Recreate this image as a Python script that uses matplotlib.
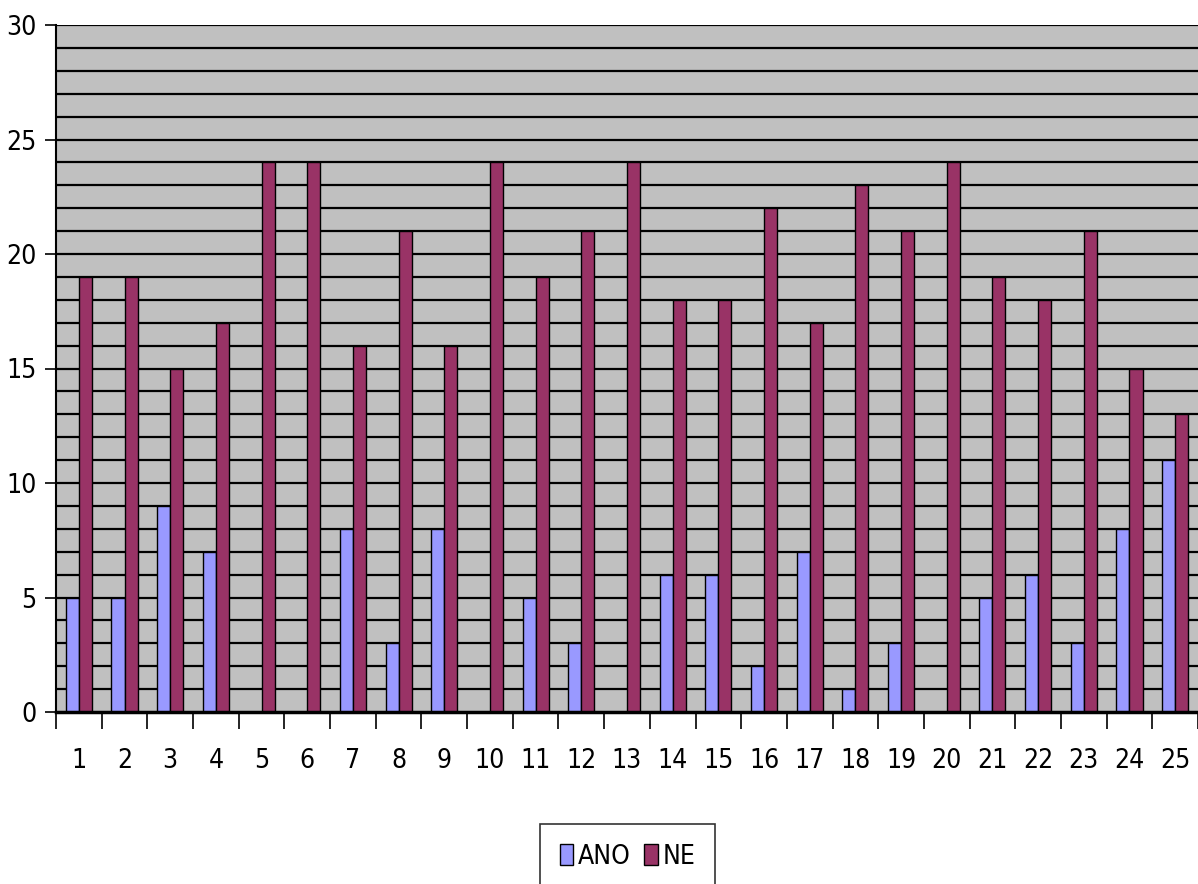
import numpy as np
import matplotlib.pyplot as plt

# values
categories = [str(k) for k in range(1, 26)]
ano = [5, 5, 9, 7, 0, 0, 8, 3, 8, 0, 5, 3, 0, 6, 6, 2, 7, 1, 3, 0, 5, 6, 3, 8, 11]
ne = [19, 19, 15, 17, 24, 24, 16, 21, 16, 24, 19, 21, 24, 18, 18, 22, 17, 23, 21, 24, 19, 18, 21, 15, 13]
series_names = ['ANO', 'NE']

plt.rcParams['font.family'] = ['Liberation Sans Narrow', 'DejaVu Sans']
plt.rcParams['font.stretch'] = 'condensed'

fig = plt.figure(figsize=(11.98, 8.84), dpi=100)
ax = fig.add_axes([56 / 1198, 1 - 712 / 884, 1 - 56 / 1198, (712 - 25) / 884])
ax.set_facecolor('#c0c0c0')

x = np.arange(len(categories))
w = 1 / 3.5   # excel gap width 150%
ax.bar(x - w / 2, ano, w, color='#9999ff', edgecolor='black', linewidth=1, label=series_names[0], zorder=3)
ax.bar(x + w / 2, ne, w, color='#993366', edgecolor='black', linewidth=1, label=series_names[1], zorder=3)

ax.set_xlim(-0.5, len(categories) - 0.5)
ax.set_ylim(0, 30)

# horizontal gridlines every unit
for yv in range(1, 31):
    ax.axhline(yv, color='black', linewidth=1.6, zorder=1)

ax.set_yticks(range(0, 31, 5))
ax.tick_params(axis='y', length=8, width=1.2, labelsize=19, pad=6)

# x ticks at category boundaries, labels centred
ax.set_xticks(np.arange(-0.5, len(categories), 1))
ax.set_xticklabels([])
ax.set_xticks(x, minor=True)
ax.set_xticklabels(categories, minor=True)
ax.tick_params(axis='x', which='major', length=12, width=1.2)
ax.tick_params(axis='x', which='minor', length=0, labelsize=19, pad=26)

for side in ['top', 'right']:
    ax.spines[side].set_visible(False)
ax.spines['left'].set_linewidth(1.5)
ax.spines['bottom'].set_linewidth(2.5)
ax.spines['bottom'].set_zorder(4)

leg = fig.legend(loc='upper center', bbox_to_anchor=(0.524, 0.068), ncol=2,
                 fontsize=19, frameon=True, fancybox=False, edgecolor='black',
                 handlelength=0.5, handleheight=0.8, handletextpad=0.2,
                 columnspacing=0.5, borderpad=0.75, borderaxespad=0)
leg.get_frame().set_linewidth(1.2)

fig.savefig('out.png', dpi=100, facecolor='white')
